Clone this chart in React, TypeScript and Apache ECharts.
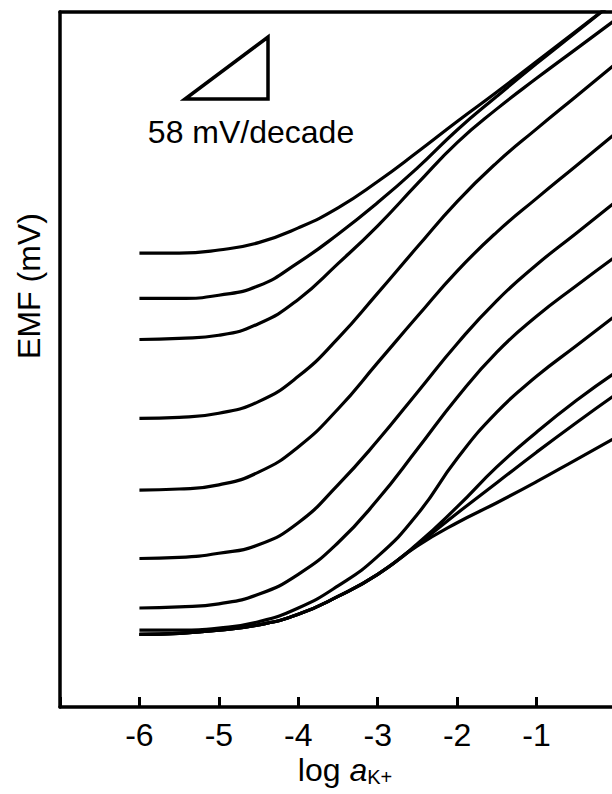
import React, { useEffect, useRef } from "react";
import * as echarts from "echarts";

// log a(K+) sample points
const logA = [-6, -5.5, -5, -4.5, -4, -3.5, -3, -2.5, -2, -1.5, -1, -0.5, 0];

// EMF (mV) values, one array per curve (top to bottom)
const curve1 = [431, 431, 434, 441, 455, 474, 499, 527, 556, 584, 613, 642, 671];
const curve2 = [388, 388, 391, 400, 422, 449, 479, 512, 548, 580, 611, 641, 671];
const curve3 = [349, 350, 353, 364, 387, 421, 457, 497, 536, 568, 597, 625, 653];
const curve4 = [274, 275, 279, 290, 314, 350, 393, 437, 480, 517, 549, 580, 611];
const curve5 = [206, 207, 211, 223, 247, 283, 327, 371, 414, 451, 483, 514, 545];
const curve6 = [141, 142, 146, 154, 175, 211, 253, 299, 345, 386, 420, 450, 480];
const curve7 = [94, 95, 98, 107, 126, 156, 197, 245, 294, 337, 371, 400, 428];
const curve8 = [73, 73, 75, 81, 94, 115, 143, 183, 236, 280, 314, 343, 372];
const curve9 = [69, 70, 73, 78, 88, 105, 126, 155, 190, 228, 261, 291, 318];
const curve10 = [69, 70, 73, 78, 88, 105, 126, 154, 184, 213, 242, 270, 297];
const curve11 = [69, 70, 73, 78, 88, 105, 126, 153, 175, 194, 214, 235, 256];

const curves = [curve1, curve2, curve3, curve4, curve5, curve6, curve7, curve8, curve9, curve10, curve11];

const xTickLabels = ["-6", "-5", "-4", "-3", "-2", "-1"];

const FONT = "'Liberation Sans', Arial, Helvetica, sans-serif";

export default function App() {
  const ref = useRef<HTMLDivElement>(null);

  useEffect(() => {
    document.body.style.overflow = "hidden";
    const chart = echarts.init(ref.current!, null, { renderer: "svg" });
    const axisLineStyle = { color: "#000", width: 3.5 };
    const option = {
      animation: false,
      backgroundColor: "#fff",
      grid: { left: 60, right: 24, top: 12, bottom: 87 },
      xAxis: [
        {
          type: "value",
          min: -7,
          max: 0,
          interval: 1,
          position: "bottom",
          axisLine: { show: true, onZero: false, lineStyle: axisLineStyle },
          axisTick: { show: true, inside: true, length: 10, lineStyle: { color: "#000", width: 3 } },
          axisLabel: {
            color: "#000",
            fontSize: 32,
            fontFamily: FONT,
            margin: 12,
            formatter: (v: number) => {
              const s = String(v);
              return xTickLabels.indexOf(s) >= 0 ? s : "";
            },
          },
          splitLine: { show: false },
        },
        {
          type: "value",
          min: -7,
          max: 0,
          position: "top",
          axisLine: { show: true, onZero: false, lineStyle: axisLineStyle },
          axisTick: { show: false },
          axisLabel: { show: false },
          splitLine: { show: false },
        },
      ],
      yAxis: {
        type: "value",
        min: 0,
        max: 660,
        axisLine: { show: true, onZero: false, lineStyle: axisLineStyle },
        axisTick: { show: false },
        axisLabel: { show: false },
        splitLine: { show: false },
      },
      series: curves.map((c, i) => ({
        type: "line",
        name: "c" + (i + 1),
        xAxisIndex: 0,
        data: logA.map((x, j) => [x, c[j]]),
        smooth: 0.5,
        showSymbol: false,
        symbol: "none",
        clip: true,
        lineStyle: { color: "#000", width: 3.2 },
      })),
      graphic: [
        {
          type: "polygon",
          shape: { points: [[185, 99], [268, 99], [268, 37]] },
          style: { fill: "none", stroke: "#000", lineWidth: 3.5, lineJoin: "miter" },
        },
        {
          type: "text",
          x: 251,
          y: 132,
          style: {
            text: "58 mV/decade",
            font: `32px ${FONT}`,
            fill: "#000",
            align: "center",
            verticalAlign: "middle",
          },
        },
        {
          type: "text",
          x: 29,
          y: 286,
          rotation: Math.PI / 2,
          style: {
            text: "EMF (mV)",
            font: `32px ${FONT}`,
            fill: "#000",
            align: "center",
            verticalAlign: "middle",
          },
        },
        {
          type: "text",
          x: 345,
          y: 770,
          style: {
            text: "{n|log }{i|a}{s|K+}",
            align: "center",
            verticalAlign: "middle",
            rich: {
              n: { fontSize: 32, fontFamily: FONT, fill: "#000", lineHeight: 34 },
              i: { fontSize: 32, fontFamily: FONT, fontStyle: "italic", fill: "#000", lineHeight: 34 },
              s: { fontSize: 20, fontFamily: FONT, fill: "#000", lineHeight: 14, verticalAlign: "bottom" },
            },
          },
        },
      ],
    };
    chart.setOption(option as any);
    return () => chart.dispose();
  }, []);

  return (
    <div
      ref={ref}
      style={{ position: "fixed", left: 0, top: 0, width: 640, height: 794, background: "#fff" }}
    />
  );
}
